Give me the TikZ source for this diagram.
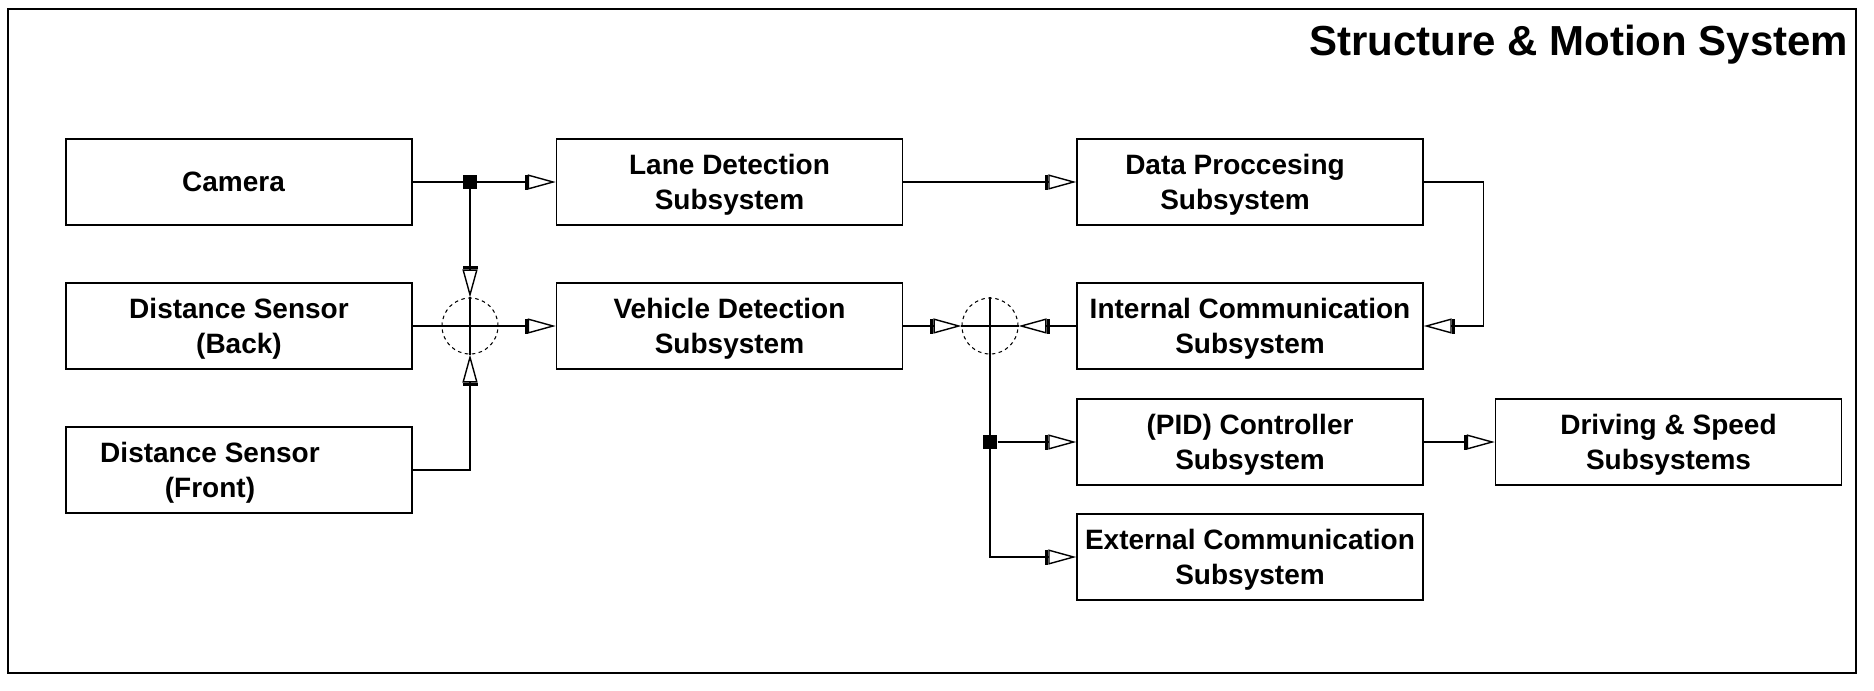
\documentclass[tikz,border=0pt]{standalone}
\usepackage{fontspec}
\setmainfont{Liberation Sans}
\usetikzlibrary{arrows.meta}
\newcommand{\boxfont}{\fontsize{7.97}{9.96}\selectfont\bfseries}
\newcommand{\titlefont}{\fontsize{11.95}{14}\selectfont\bfseries}
\tikzset{
    block/.style={draw, black, line width=0.4pt, minimum width=3.46cm, minimum height=0.86cm, inner sep=0pt, align=center, text depth=-0.06cm, font=\boxfont},
    flow/.style={line width=0.4pt, -{Bar[width=0.15cm,line width=0.9pt]Triangle[open,length=0.28cm,width=0.15cm,line width=0.4pt]}},
    joint/.style={fill, black, minimum size=0.14cm, inner sep=0pt},
    mux/.style={circle, draw, line width=0.3pt, dash pattern=on 1pt off 1pt, minimum size=0.56cm, inner sep=0pt}
}

\begin{document}
\begin{tikzpicture}
    \useasboundingbox (0,0) rectangle (18.74,-6.90);
    \draw[line width=0.5pt] (0.08,-0.09) rectangle (18.56,-6.73);
    \node[anchor=base east, inner sep=0pt, font=\titlefont] (title) at (18.49,-0.55) {Structure \& Motion System};

    \node[block, text depth=0pt] (cam) at (2.39,-1.82) {\hspace*{-0.11cm}Camera};
    \node[block] (back) at (2.39,-3.26) {Distance Sensor\\(Back)};
    \node[block] (front) at (2.39,-4.70) {\hspace*{-0.58cm}Distance Sensor\\\hspace*{-0.58cm}(Front)};
    \node[block] (lane) at (7.295,-1.82) {Lane Detection\\Subsystem};
    \node[block] (veh) at (7.295,-3.26) {Vehicle Detection\\Subsystem};
    \node[block] (data) at (12.50,-1.82) {\hspace*{-0.30cm}Data Proccesing\\\hspace*{-0.30cm}Subsystem};
    \node[block] (int) at (12.50,-3.26) {Internal Communication\\Subsystem};
    \node[block] (pid) at (12.50,-4.42) {(PID) Controller\\Subsystem};
    \node[block] (ext) at (12.50,-5.57) {External Communication\\Subsystem};
    \node[block] (drive) at (16.685,-4.42) {Driving \& Speed\\Subsystems};

    \node[mux] (mux1) at (4.70,-3.26) {};
    \node[mux] (mux2) at (9.90,-3.26) {};

    \draw[line width=0.4pt] (cam.east) -- (4.70,-1.82);
    \draw[flow] (4.70,-1.82) -- (lane.west);
    \draw[flow] (4.70,-1.82) -- (mux1.north);
    \draw[flow] (back.east) -- (veh.west);
    \draw[flow] (front.east) -| (mux1.south);
    \draw[line width=0.4pt] (mux1.north) -- (mux1.south);
    \node[joint] (j1) at (4.70,-1.82) {};

    \draw[flow] (lane.east) -- (data.west);
    \draw[flow] (data.east) -- ++(0.60,0) |- (int.east);
    \draw[flow] (veh.east) -- (mux2.west);
    \draw[flow] (int.west) -- (mux2.east);
    \draw[line width=0.4pt] (mux2.west) -- (mux2.east);
    \draw[flow] (mux2.north) |- (ext.west);
    \node[joint] (j2) at (9.90,-4.42) {};
    \draw[flow] (j2) -- (pid.west);
    \draw[flow] (pid.east) -- (drive.west);
\end{tikzpicture}
\end{document}
